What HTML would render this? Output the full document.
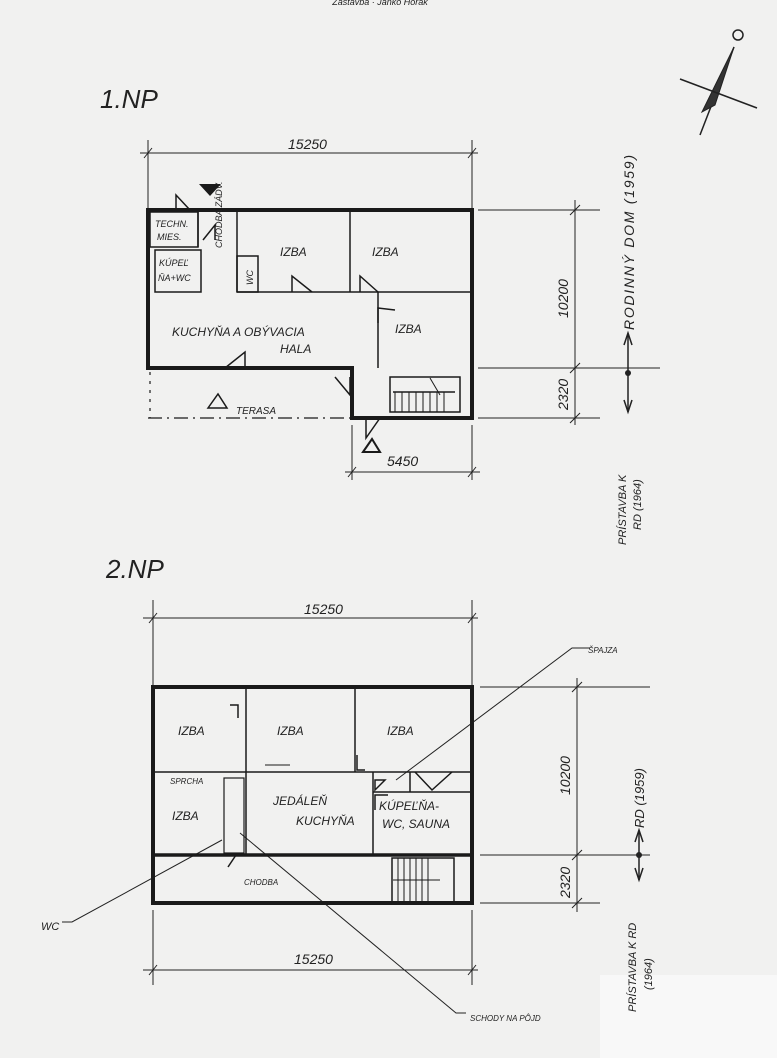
<!DOCTYPE html>
<html><head><meta charset="utf-8"><style>
html,body{margin:0;padding:0;background:#f1f1f0;}
svg{display:block}
text{font-family:"Liberation Sans",sans-serif;font-style:italic;fill:#222;}
</style></head><body>
<svg width="777" height="1058" viewBox="0 0 777 1058" xmlns="http://www.w3.org/2000/svg">
<rect width="777" height="1058" fill="#f1f1f0"/>
<rect x="600" y="975" width="177" height="83" fill="#f8f8f8"/>
<text x="380" y="5" font-size="9" text-anchor="middle">Zástavba · Janko Horák</text>
<g stroke="#222" fill="none">
<circle cx="738" cy="35" r="5" stroke-width="1.5"/>
<line x1="700" y1="135" x2="734" y2="47" stroke-width="1.5"/>
<path d="M734 47 L702 112 L715 105 Z" fill="#333"/>
<line x1="680" y1="79" x2="757" y2="108" stroke-width="1.5"/>
</g>
<text x="100" y="108" font-size="26">1.NP</text>
<text x="106" y="578" font-size="26">2.NP</text>

<!-- ===== PLAN 1 ===== -->
<g stroke="#222" fill="none" stroke-width="1">
<line x1="140" y1="153" x2="478" y2="153"/>
<line x1="148" y1="140" x2="148" y2="210"/>
<line x1="472" y1="140" x2="472" y2="210"/>
<line x1="144" y1="158" x2="152" y2="148"/><line x1="468" y1="158" x2="476" y2="148"/>
<line x1="478" y1="210" x2="600" y2="210"/>
<line x1="478" y1="368" x2="660" y2="368"/>
<line x1="478" y1="418" x2="600" y2="418"/>
<line x1="575" y1="200" x2="575" y2="425"/>
<line x1="570" y1="215" x2="580" y2="205"/><line x1="570" y1="373" x2="580" y2="363"/><line x1="570" y1="423" x2="580" y2="413"/>
<line x1="352" y1="425" x2="352" y2="480"/><line x1="472" y1="425" x2="472" y2="480"/>
<line x1="345" y1="472" x2="480" y2="472"/>
<line x1="348" y1="477" x2="356" y2="467"/><line x1="468" y1="477" x2="476" y2="467"/>
<line x1="628" y1="335" x2="628" y2="412" stroke-width="1.5"/>
<path d="M624 345 L628 333 L632 345" stroke-width="1.5"/>
<path d="M624 400 L628 412 L632 400" stroke-width="1.5"/>
</g>
<circle cx="628" cy="373" r="3" fill="#222"/>
<g stroke="#1a1a1a" fill="none">
<path d="M148 210 H472 V418 H352 V368 H148 Z" stroke-width="4"/>
<g stroke-width="1.5">
<line x1="237" y1="210" x2="237" y2="292"/>
<line x1="350" y1="210" x2="350" y2="292"/>
<line x1="237" y1="292" x2="470" y2="292"/>
<line x1="378" y1="292" x2="378" y2="368"/>
<rect x="150" y="212" width="48" height="35"/>
<rect x="155" y="250" width="46" height="42"/>
<rect x="237" y="256" width="21" height="36"/>
<line x1="198" y1="212" x2="198" y2="247"/>
<path d="M292 292 V276 L312 292"/><path d="M360 292 V276 L378 292"/>
<path d="M378 323 V308 L395 310"/><path d="M225 368 L245 352 V368"/>
<path d="M176 210 V195 L190 210"/><path d="M203 240 L215 225 L215 240"/>
<path d="M335 377 L350 395 V377"/><path d="M366 418 V438 L380 418"/>
<rect x="390" y="377" width="70" height="35"/>
<line x1="393" y1="392" x2="455" y2="392"/>
<g stroke-width="1">
<line x1="395" y1="392" x2="395" y2="412"/><line x1="402" y1="392" x2="402" y2="412"/><line x1="409" y1="392" x2="409" y2="412"/><line x1="416" y1="392" x2="416" y2="412"/><line x1="423" y1="392" x2="423" y2="412"/><line x1="430" y1="392" x2="430" y2="412"/><line x1="437" y1="392" x2="437" y2="412"/><line x1="444" y1="392" x2="444" y2="412"/>
<line x1="430" y1="378" x2="440" y2="395"/>
</g>
<path d="M208 408 L218 394 L227 408 Z"/><path d="M363 452 L372 439 L380 452 Z" stroke-width="2"/>
</g>
<path d="M148 418 H352" stroke-width="1.2" stroke-dasharray="14 5 2 5"/>
<line x1="150" y1="372" x2="150" y2="418" stroke-width="1.2" stroke-dasharray="3 6"/>
</g>
<path d="M199 184 L221 184 L210 196 Z" fill="#1a1a1a"/>
<g font-size="9">
<text x="155" y="227">TECHN.</text><text x="157" y="240">MIES.</text>
<text x="159" y="266">KÚPEĽ</text><text x="158" y="281">ŇA+WC</text>
</g>
<text x="222" y="248" font-size="9" transform="rotate(-90 222 248)">CHODBA ZÁDV.</text>
<text x="253" y="285" font-size="9" transform="rotate(-90 253 285)">WC</text>
<g font-size="12">
<text x="280" y="256">IZBA</text><text x="372" y="256">IZBA</text><text x="395" y="333">IZBA</text>
<text x="172" y="336">KUCHYŇA A OBÝVACIA</text><text x="280" y="353">HALA</text>
<text x="236" y="414" font-size="10">TERASA</text>
</g>
<g font-size="14">
<text x="288" y="149">15250</text>
<text x="387" y="466">5450</text>
<text x="568" y="318" transform="rotate(-90 568 318)">10200</text>
<text x="568" y="410" transform="rotate(-90 568 410)">2320</text>
</g>
<text x="634" y="330" font-size="14" transform="rotate(-90 634 330)" textLength="175">RODINNÝ DOM (1959)</text>
<text x="626" y="545" font-size="11" transform="rotate(-90 626 545)">PRÍSTAVBA K</text>
<text x="641" y="530" font-size="11" transform="rotate(-90 641 530)">RD (1964)</text>

<!-- ===== PLAN 2 ===== -->
<g stroke="#222" fill="none" stroke-width="1">
<line x1="143" y1="618" x2="478" y2="618"/>
<line x1="153" y1="600" x2="153" y2="687"/><line x1="472" y1="600" x2="472" y2="687"/>
<line x1="149" y1="623" x2="157" y2="613"/><line x1="468" y1="623" x2="476" y2="613"/>
<line x1="143" y1="970" x2="478" y2="970"/>
<line x1="153" y1="910" x2="153" y2="985"/><line x1="472" y1="910" x2="472" y2="985"/>
<line x1="149" y1="975" x2="157" y2="965"/><line x1="468" y1="975" x2="476" y2="965"/>
<line x1="480" y1="687" x2="650" y2="687"/>
<line x1="480" y1="855" x2="650" y2="855"/>
<line x1="480" y1="903" x2="600" y2="903"/>
<line x1="577" y1="678" x2="577" y2="912"/>
<line x1="572" y1="692" x2="582" y2="682"/><line x1="572" y1="860" x2="582" y2="850"/><line x1="572" y1="908" x2="582" y2="898"/>
<line x1="639" y1="832" x2="639" y2="880" stroke-width="1.5"/>
<path d="M635 842 L639 830 L643 842" stroke-width="1.5"/>
<path d="M635 868 L639 880 L643 868" stroke-width="1.5"/>
<path d="M590 648 H572 L396 780"/>
<path d="M62 922 H72 L222 840"/>
<path d="M240 833 L456 1013 H466"/>
</g>
<circle cx="639" cy="855" r="3" fill="#222"/>
<g stroke="#1a1a1a" fill="none">
<path d="M153 687 H472 V903 H153 Z" stroke-width="4"/>
<line x1="153" y1="855" x2="472" y2="855" stroke-width="3.5"/>
<g stroke-width="1.5">
<line x1="246" y1="687" x2="246" y2="855"/>
<line x1="355" y1="687" x2="355" y2="772"/>
<line x1="153" y1="772" x2="472" y2="772"/>
<line x1="373" y1="772" x2="373" y2="855"/>
<line x1="373" y1="792" x2="472" y2="792"/>
<line x1="410" y1="772" x2="410" y2="792"/>
<rect x="224" y="778" width="20" height="75" stroke-width="1.2"/>
<path d="M230 705 L238 705 V718"/><path d="M357 755 V770 L365 770"/>
<path d="M375 780 L385 780 L375 790 Z"/><path d="M375 810 V795 L388 795"/>
<path d="M228 867 L236 855"/><path d="M415 772 L432 790 L452 772"/>
<path d="M265 765 H290" stroke-width="1"/>
<rect x="392" y="858" width="62" height="45"/>
<g stroke-width="1">
<line x1="398" y1="858" x2="398" y2="903"/><line x1="404" y1="858" x2="404" y2="903"/><line x1="410" y1="858" x2="410" y2="903"/><line x1="416" y1="858" x2="416" y2="903"/><line x1="422" y1="858" x2="422" y2="903"/><line x1="428" y1="858" x2="428" y2="903"/>
<line x1="393" y1="880" x2="440" y2="880"/>
</g>
</g>
</g>
<g font-size="12">
<text x="178" y="735">IZBA</text><text x="277" y="735">IZBA</text><text x="387" y="735">IZBA</text>
<text x="172" y="820">IZBA</text>
<text x="273" y="805">JEDÁLEŇ</text><text x="296" y="825">KUCHYŇA</text>
<text x="379" y="810">KÚPEĽŇA-</text><text x="382" y="828">WC, SAUNA</text>
</g>
<g font-size="8">
<text x="170" y="784">SPRCHA</text><text x="244" y="885">CHODBA</text>
<text x="588" y="653">ŠPAJZA</text><text x="470" y="1021">SCHODY NA PÔJD</text>
</g>
<text x="41" y="930" font-size="11">WC</text>
<g font-size="14">
<text x="304" y="614">15250</text>
<text x="294" y="964">15250</text>
<text x="570" y="795" transform="rotate(-90 570 795)">10200</text>
<text x="570" y="898" transform="rotate(-90 570 898)">2320</text>
</g>
<text x="644" y="828" font-size="13" transform="rotate(-90 644 828)">RD (1959)</text>
<text x="636" y="1012" font-size="11" transform="rotate(-90 636 1012)">PRÍSTAVBA K RD</text>
<text x="652" y="990" font-size="11" transform="rotate(-90 652 990)">(1964)</text>
</svg>
</body></html>
